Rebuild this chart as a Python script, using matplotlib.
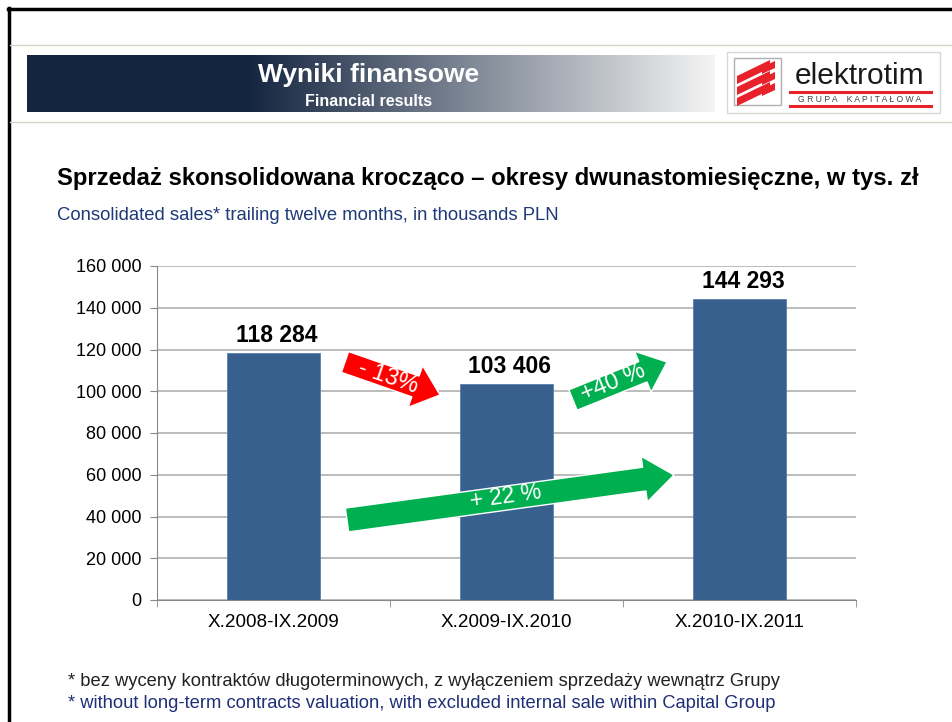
import numpy as np
import matplotlib
matplotlib.use("Agg")
import matplotlib.pyplot as plt
from matplotlib.patches import FancyArrow, Rectangle, Polygon
from matplotlib.ticker import FuncFormatter

plt.rcParams['font.family'] = ['Liberation Sans', 'DejaVu Sans']

categories = ["X.2008-IX.2009", "X.2009-IX.2010", "X.2010-IX.2011"]
sales = [118284, 103406, 144293]
value_labels = ["118 284", "103 406", "144 293"]
yticks = [0, 20000, 40000, 60000, 80000, 100000, 120000, 140000, 160000]

title_pl = "Sprzedaż skonsolidowana krocząco – okresy dwunastomiesięczne, w tys. zł"
subtitle_en = "Consolidated sales* trailing twelve months, in thousands PLN"
foot_pl = "* bez wyceny kontraktów długoterminowych, z wyłączeniem sprzedaży wewnątrz Grupy"
foot_en = "* without long-term contracts valuation, with excluded internal sale within Capital Group"
change_labels = ["- 13%", "+40 %", "+ 22 %"]

W, H = 953, 722
fig = plt.figure(figsize=(W / 100, H / 100), dpi=100)
fig.patch.set_facecolor("white")

# overlay axes in pixel coordinates (for decoration)
ov = fig.add_axes([0, 0, 1, 1], zorder=0)
ov.set_xlim(0, W)
ov.set_ylim(H, 0)
ov.axis("off")

# frame lines
ov.plot([8, W], [9, 9], color="black", lw=2.5)
ov.plot([9, 9], [8, H], color="black", lw=2.5)
ov.plot([10, W], [45, 45], color="#d8d4c0", lw=1)
ov.plot([10, W], [122, 122], color="#d8d4c0", lw=1)

# header gradient banner
x = np.linspace(0, 1, 256)
dark = np.array([0x14, 0x25, 0x40]) / 255.0
light = np.array([0xf4, 0xf4, 0xf4]) / 255.0
t = np.clip((x - 0.32) / 0.68, 0, 1)
cols = dark[None, :] * (1 - t[:, None]) + light[None, :] * t[:, None]
ov.imshow(cols[None, :, :], extent=[27, 715, 112, 55], aspect="auto", zorder=1)
ov.text(369, 75, "Wyniki finansowe", color="white", fontsize=19, fontweight="bold",
        ha="center", va="center", zorder=2)
ov.text(369, 101, "Financial results", color="white", fontsize=11.5, fontweight="bold",
        ha="center", va="center", zorder=2)

# logo
ov.add_patch(Rectangle((727, 52), 213, 61, facecolor="white", edgecolor="#d8d8d0", lw=1, zorder=1))
ov.add_patch(Rectangle((734, 58), 47, 47, facecolor="white", edgecolor="#b0b0b0", lw=1, zorder=2))
for k in range(3):
    y0 = 72 + k * 11
    ov.add_patch(Polygon([(737, y0 + 12), (737, y0 + 4), (770, y0 - 12), (770, y0 - 4)],
                         closed=True, facecolor="#e8222a", edgecolor="none", zorder=3))
    ov.add_patch(Polygon([(762, y0 + 2), (762, y0 - 5), (775, y0 - 11), (775, y0 - 4)],
                         closed=True, facecolor="#e8222a", edgecolor="none", zorder=3))
ov.text(860, 76, "elektrotim", color="#1a1a1a", fontsize=21.5, ha="center", va="center", zorder=2)
ov.plot([790, 931], [92, 92], color="#e8222a", lw=2.2, zorder=2)
ov.text(860, 99, "G R U P A    K A P I T A Ł O W A", color="#444444", fontsize=6.2,
        ha="center", va="center", zorder=2)
ov.plot([790, 931], [106, 106], color="#e8222a", lw=2.2, zorder=2)

# titles
ov.text(57, 178, title_pl, fontsize=17.2, fontweight="bold", color="black", ha="left", va="center")
ov.text(57, 215, subtitle_en, fontsize=13.3, color="#1f3a78", ha="left", va="center")
ov.text(68, 681, foot_pl, fontsize=13.2, color="#222222", ha="left", va="center")
ov.text(68, 703, foot_en, fontsize=13.2, color="#1f2f78", ha="left", va="center")

# main chart
left, right = 157 / W, 856 / W
bottom, top = 1 - 600 / H, 1 - 266 / H
ax = fig.add_axes([left, bottom, right - left, top - bottom], zorder=1)
ax.patch.set_alpha(0)
xpos = np.arange(len(categories))
bars = ax.bar(xpos, sales, width=0.4, color="#37608f", edgecolor="#5a7fae", lw=0.6, zorder=2)
ax.set_xlim(-0.5, len(categories) - 0.5)
ax.set_ylim(0, 160000)
ax.set_yticks(yticks)
ax.yaxis.set_major_formatter(FuncFormatter(lambda v, p: f"{int(v):,}".replace(",", " ")))
ax.set_xticks(xpos)
ax.set_xticklabels(categories)
ax.tick_params(axis="x", length=0, labelsize=13.6, pad=10)
ax.tick_params(axis="y", length=5, color="#888888", labelsize=13, pad=6)
ax.set_xticks(np.arange(-0.5, len(categories), 1), minor=True)
ax.tick_params(axis="x", which="minor", length=5, color="#888888")
ax.grid(axis="y", color="#b0b0b0", lw=1.2, zorder=0)
for s in ["top", "right"]:
    ax.spines[s].set_visible(False)
ax.spines["left"].set_color("#888888")
ax.spines["bottom"].set_color("#888888")
for xi, v, lab in zip(xpos, sales, value_labels):
    ax.text(xi + 0.015, v + 2800, lab, ha="center", va="bottom", fontsize=16.5, fontweight="bold")

# change arrows (overlay in pixel coords, above chart)
ov2 = fig.add_axes([0, 0, 1, 1], zorder=3)
ov2.set_xlim(0, W)
ov2.set_ylim(H, 0)
ov2.axis("off")

def arrow(x0, y0, x1, y1, color, body, head_w, head_l):
    a = FancyArrow(x0, y0, x1 - x0, y1 - y0, width=body, head_width=head_w,
                   head_length=head_l, length_includes_head=True,
                   facecolor=color, edgecolor="white", lw=1, zorder=3)
    ov2.add_patch(a)

arrow(345, 362, 440, 395, "#ff0000", 22, 44, 26)
arrow(573, 400, 667, 362, "#00b050", 22, 44, 26)
arrow(347, 520, 674, 475, "#00b050", 24, 46, 30)
ov2.text(388, 377, change_labels[0], color="white", fontsize=17, rotation=-19,
         ha="center", va="center", rotation_mode="anchor", zorder=4)
ov2.text(613, 383, change_labels[1], color="white", fontsize=17, rotation=22,
         ha="center", va="center", rotation_mode="anchor", zorder=4)
ov2.text(506, 497, change_labels[2], color="white", fontsize=16.5, rotation=7.9,
         ha="center", va="center", rotation_mode="anchor", zorder=4)

fig.savefig("out.png", dpi=100)
